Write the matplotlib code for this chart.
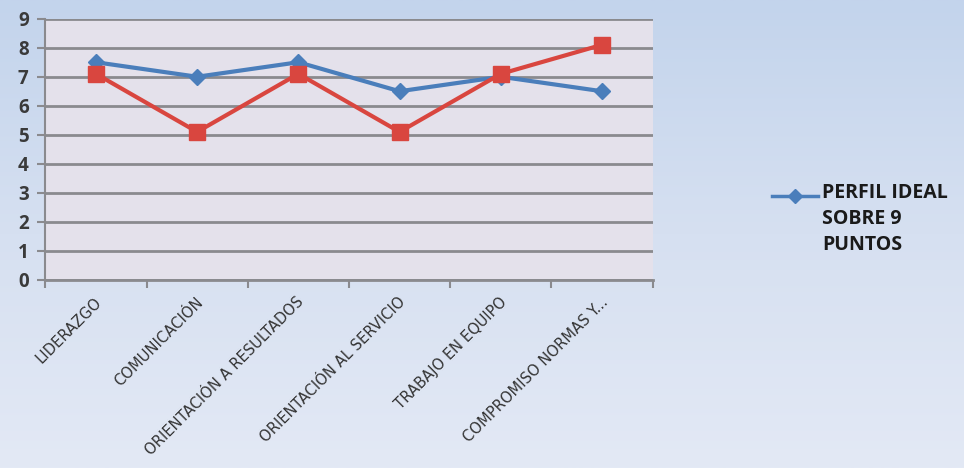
import numpy as np
import matplotlib
matplotlib.use('Agg')
import matplotlib.pyplot as plt
from matplotlib.colors import LinearSegmentedColormap
from matplotlib.lines import Line2D

categorias = ['LIDERAZGO', 'COMUNICACIÓN', 'ORIENTACIÓN A RESULTADOS',
              'ORIENTACIÓN AL SERVICIO', 'TRABAJO EN EQUIPO', 'COMPROMISO NORMAS Y...']
perfil_ideal = [7.5, 7.0, 7.5, 6.5, 7.0, 6.5]
evaluado = [7.1, 5.1, 7.1, 5.1, 7.1, 8.1]
y_ticks = list(range(0, 10))

AZUL = '#4a7ebb'
ROJO = '#d9463f'

fig = plt.figure(figsize=(9.64, 4.68), dpi=100)

# fondo degradado de la diapositiva
bg = fig.add_axes([0, 0, 1, 1], zorder=-10)
cmap_bg = LinearSegmentedColormap.from_list('bg', ['#e3e9f5', '#d6e0f1', '#c3d4ec'])
bg.imshow(np.linspace(0, 1, 256).reshape(-1, 1), aspect='auto', cmap=cmap_bg,
          extent=[0, 1, 0, 1], origin='lower')
bg.set_xlim(0, 1); bg.set_ylim(0, 1)
bg.axis('off')

ax = fig.add_axes([0.047, 0.402, 0.630, 0.558])
ax.set_facecolor('#e4e1eb')

x = np.arange(len(categorias))
ax.plot(x, perfil_ideal, color=AZUL, lw=3, marker='D', ms=8, mfc=AZUL, mec=AZUL, zorder=3)
ax.plot(x, evaluado, color=ROJO, lw=3, marker='s', ms=11, mfc=ROJO, mec=ROJO, zorder=4)

ax.set_xlim(-0.5, len(categorias) - 0.5)
ax.set_ylim(0, 9)
ax.set_yticks(y_ticks)
ax.yaxis.grid(True, color='#8a8a8e', lw=2)
ax.set_axisbelow(True)

for s in ['top', 'right']:
    ax.spines[s].set_visible(False)
ax.spines['left'].set_color('#8a8a8e')
ax.spines['left'].set_linewidth(1.5)
ax.spines['bottom'].set_color('#8a8a8e')
ax.spines['bottom'].set_linewidth(2)

# marcas entre categorias en el eje x
ax.set_xticks(np.arange(-0.5, len(categorias)))
ax.set_xticklabels([])
ax.tick_params(axis='x', length=6, color='#8a8a8e', width=1.5)
ax.tick_params(axis='y', length=6, color='#8a8a8e', width=1.5, labelsize=13.5,
               labelcolor='#3a3a3a', pad=6)
for t in ax.get_yticklabels():
    t.set_fontweight('bold')
    t.set_family('Open Sans')

for xi, cat in zip(x, categorias):
    ax.text(xi - 0.02, -0.5, cat, rotation=45, rotation_mode='anchor',
            ha='right', va='top', fontsize=11.8, color='#333333',
            family='DejaVu Sans', fontstretch='condensed', clip_on=False)

# leyenda: solo la serie ideal
fig.add_artist(Line2D([772 / 964, 818 / 964], [1 - 196 / 468] * 2, color=AZUL, lw=2.5))
fig.add_artist(Line2D([795 / 964], [1 - 196 / 468], color=AZUL, marker='D', ms=7,
                      mfc=AZUL, mec=AZUL))
fig.text(822 / 964, 1 - 183 / 468, 'PERFIL IDEAL\nSOBRE 9\nPUNTOS', ha='left', va='top',
         fontsize=14, fontweight='bold', family='Open Sans', color='#1a1a1a',
         linespacing=1.4)

fig.savefig('out.png', dpi=100)
